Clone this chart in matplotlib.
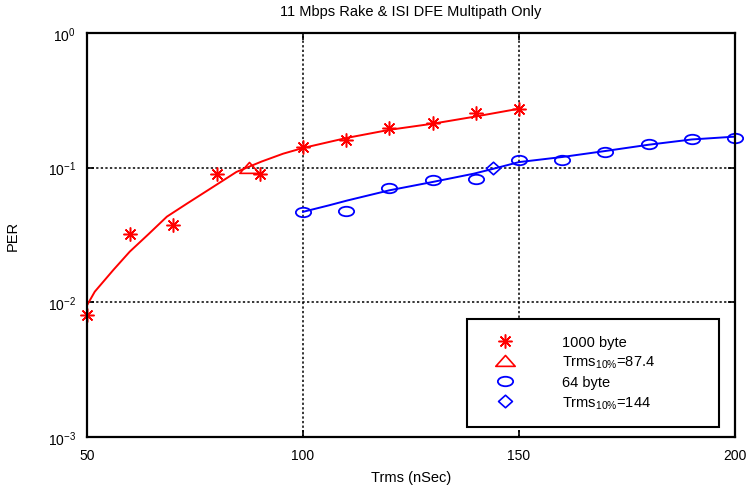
import numpy as np
import matplotlib
matplotlib.use('Agg')
import matplotlib.pyplot as plt
from matplotlib.path import Path
from matplotlib.transforms import Affine2D
from matplotlib.lines import Line2D
from matplotlib.patches import Rectangle
from matplotlib.ticker import NullLocator, FixedLocator

plt.rcParams['font.family'] = ['Liberation Sans', 'DejaVu Sans']
plt.rcParams['mathtext.fontset'] = 'custom'
plt.rcParams['mathtext.rm'] = 'Liberation Sans'
plt.rcParams['mathtext.it'] = 'Liberation Sans:italic'
plt.rcParams['mathtext.default'] = 'regular'

# measured PER, 1000 byte packets
trms_1000 = [50, 60, 70, 80, 90, 100, 110, 120, 130, 140, 150]
per_1000 = [0.0081, 0.0324, 0.0378, 0.089, 0.089, 0.142, 0.161, 0.197, 0.215, 0.255, 0.274]
# fitted curve, 1000 byte
fit_x_1000 = [50, 51.8, 56.1, 59.9, 64.2, 68.5, 73.1, 79.2, 84.6, 90.4, 95.4, 100, 110, 120, 130, 140, 150]
fit_y_1000 = [0.0095, 0.012, 0.0174, 0.0238, 0.032, 0.0433, 0.054, 0.072, 0.093, 0.111, 0.127, 0.14,
              0.166, 0.191, 0.212, 0.240, 0.274]
trms10_1000 = 87.4

# measured PER, 64 byte packets
trms_64 = [100, 110, 120, 130, 140, 150, 160, 170, 180, 190, 200]
per_64 = [0.0469, 0.0477, 0.0707, 0.0814, 0.0828, 0.1146, 0.1146, 0.130, 0.149, 0.162, 0.166]
# fitted curve, 64 byte
fit_x_64 = [100, 106, 110.3, 120, 130, 139.5, 144, 150, 160, 170, 180, 190, 200]
fit_y_64 = [0.047, 0.0525, 0.0571, 0.0679, 0.0783, 0.0902, 0.098, 0.110, 0.120, 0.133, 0.148, 0.162, 0.170]
trms10_64 = 144

# wide open markers
ellipse = Path.unit_circle().transformed(Affine2D().scale(1, 0.62))
triangle = Path([(-1, -0.5), (1, -0.5), (0, 0.62), (-1, -0.5)],
                [Path.MOVETO, Path.LINETO, Path.LINETO, Path.CLOSEPOLY])
diamond = Path([(0, -0.9), (1, 0), (0, 0.9), (-1, 0), (0, -0.9)],
               [Path.MOVETO, Path.LINETO, Path.LINETO, Path.LINETO, Path.CLOSEPOLY])
asterisk = (8, 2, 0)

star_kw = dict(ls='none', marker=asterisk, ms=10, mew=1.1, color='red')
tri_kw = dict(ls='none', marker=triangle, ms=14, mew=1.2, mfc='none', mec='red')
circ_kw = dict(ls='none', marker=ellipse, ms=11, mew=1.3, mfc='none', mec='blue')
diam_kw = dict(ls='none', marker=diamond, ms=10, mew=1.2, mfc='none', mec='blue')

fig = plt.figure(figsize=(7.52, 4.89), dpi=100)
ax = fig.add_axes([87 / 752, 51 / 489, 648 / 752, 404 / 489])

ax.plot(fit_x_1000, fit_y_1000, color='red', lw=1.4)
ax.plot(fit_x_64, fit_y_64, color='blue', lw=1.4)

ax.plot(trms_1000, per_1000, clip_on=False, **star_kw)
ax.plot([trms10_1000], [0.1], **tri_kw)
ax.plot(trms_64, per_64, clip_on=False, **circ_kw)
ax.plot([trms10_64], [0.1], **diam_kw)

ax.set_yscale('log')
ax.set_xlim(50, 200)
ax.set_ylim(1e-3, 1)
ax.xaxis.set_major_locator(FixedLocator([50, 100, 150, 200]))
ax.yaxis.set_minor_locator(NullLocator())

ax.grid(True, which='major', color='black', ls=(0, (1.5, 1.5)), lw=1.1)
ax.tick_params(direction='in', length=5, width=1.2, top=True, right=True,
               labelsize=10, pad=8)
for sp in ax.spines.values():
    sp.set_linewidth(1.6)

ax.set_title('11 Mbps Rake & ISI DFE Multipath Only', fontsize=10.5, pad=13)
ax.set_xlabel('Trms (nSec)', fontsize=10.5, labelpad=6)
ax.set_ylabel('PER', fontsize=10.5, labelpad=20)

# legend box drawn separately so its size can be set
ax.add_patch(Rectangle((0.586, 0.025), 0.389, 0.267, transform=ax.transAxes,
                       facecolor='white', edgecolor='black', lw=1.5, zorder=5))
handles = [Line2D([], [], **star_kw), Line2D([], [], **tri_kw),
           Line2D([], [], **circ_kw), Line2D([], [], **diam_kw)]
labels = ['1000 byte', r'Trms$_{10\%}$=87.4', '64 byte', r'Trms$_{10\%}$=144']
leg = ax.legend(handles, labels, loc='upper left', bbox_to_anchor=(0.627, 0.253),
                borderaxespad=0, borderpad=0, frameon=False, fontsize=10.5,
                handlelength=1.6, handletextpad=3.1, labelspacing=0.35)
leg.set_zorder(6)

fig.savefig('out.png', dpi=100)
